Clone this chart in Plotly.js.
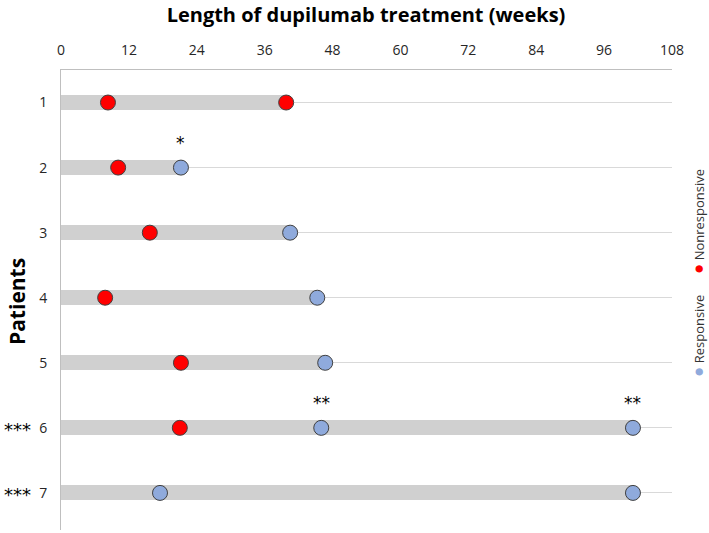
<!DOCTYPE html>
<html>
<head>
<meta charset="utf-8">
<script src="https://cdn.plot.ly/plotly-3.0.1.min.js"></script>
<style>html,body{margin:0;padding:0;background:#fff;}#chart{width:709px;height:533px;}</style>
</head>
<body>
<div id="chart"></div>
<script>
// Data
const patients = [1, 2, 3, 4, 5, 6, 7];
const treatmentEnd = [40, 21.2, 40.5, 45.3, 46.7, 101.1, 101.1];
const nonrespWeeks = [8.3, 39.8, 10.1, 15.7, 7.8, 21.2, 21.0];
const nonrespPatient = [1, 1, 2, 3, 4, 5, 6];
const respWeeks = [21.2, 40.5, 45.3, 46.7, 46.0, 101.1, 17.5, 101.1];
const respPatient = [2, 3, 4, 5, 6, 6, 7, 7];
const xTicks = [0, 12, 24, 36, 48, 60, 72, 84, 96, 108];
const starNotes = [
  {x: 21.2, y: 2, text: '*'},
  {x: 46.0, y: 6, text: '**'},
  {x: 101.1, y: 6, text: '**'}
];
const starPatients = [6, 7];

const labelFont = {family: 'Open Sans, Liberation Sans, sans-serif', size: 14, color: '#262626'};

const traces = [
  {
    type: 'bar', orientation: 'h', x: treatmentEnd, y: patients, base: 0,
    width: 0.23, marker: {color: '#D0D0D0'}, hoverinfo: 'skip', showlegend: false
  },
  {
    type: 'scatter', mode: 'markers', x: nonrespWeeks, y: nonrespPatient, name: 'Nonresponsive',
    marker: {color: '#FF0000', size: 15, line: {color: '#404040', width: 1}}, showlegend: false
  },
  {
    type: 'scatter', mode: 'markers', x: respWeeks, y: respPatient, name: 'Responsive',
    marker: {color: '#8FAADC', size: 15, line: {color: '#404040', width: 1}}, showlegend: false
  }
];

const annotations = [];
starNotes.forEach(s => annotations.push({
  x: s.x, y: s.y, xref: 'x', yref: 'y', text: s.text, showarrow: false,
  xanchor: 'center', yshift: 25, font: {family: 'DejaVu Sans, sans-serif', size: 17, color: '#000'}
}));
starPatients.forEach(p => annotations.push({
  x: -0.072, y: p, xref: 'paper', yref: 'y', text: '***', showarrow: false,
  xanchor: 'center', yshift: -2, font: {family: 'DejaVu Sans, sans-serif', size: 18, color: '#000'}
}));
annotations.push({
  x: (17 - 61) / 611, y: (530 - 302) / 460, xref: 'paper', yref: 'paper', text: '<b>Patients</b>', textangle: -90,
  xanchor: 'center', yanchor: 'middle',
  showarrow: false, font: {family: 'Open Sans, sans-serif', size: 21, color: '#000'}
});
annotations.push({
  x: (697 - 61) / 611, y: (530 - 222) / 460, xref: 'paper', yref: 'paper',
  xanchor: 'center', yanchor: 'middle',
  text: '<span style="color:#FF0000;font-size:17px">●</span> Nonresponsive', textangle: -90, showarrow: false,
  font: {family: 'Open Sans, sans-serif', size: 13, color: '#333'}
});
annotations.push({
  x: (697 - 61) / 611, y: (530 - 336) / 460, xref: 'paper', yref: 'paper',
  xanchor: 'center', yanchor: 'middle',
  text: '<span style="color:#8FAADC;font-size:17px">●</span> Responsive', textangle: -90, showarrow: false,
  font: {family: 'Open Sans, sans-serif', size: 13, color: '#333'}
});

const layout = {
  width: 709, height: 533,
  margin: {l: 61, r: 37, t: 70, b: 3, pad: 0},
  paper_bgcolor: '#fff', plot_bgcolor: '#fff',
  title: {
    text: '<b>Length of dupilumab treatment (weeks)</b>',
    x: 366 / 709, xanchor: 'center', y: 1 - 15 / 533, yanchor: 'middle', xref: 'container', yref: 'container',
    font: {family: 'Open Sans, sans-serif', size: 20, color: '#000'}
  },
  xaxis: {
    side: 'top', range: [0, 108], tickvals: xTicks, ticktext: xTicks.map(String),
    showgrid: false, zeroline: false, showline: true, linecolor: '#BFBFBF', linewidth: 1,
    ticks: 'outside', ticklen: 8, tickcolor: 'rgba(0,0,0,0)', tickfont: labelFont, fixedrange: true
  },
  yaxis: {
    range: [7.57, 0.5], tickvals: patients, ticktext: patients.map(String),
    showgrid: true, gridcolor: '#D9D9D9', gridwidth: 1, zeroline: false,
    showline: true, linecolor: '#BFBFBF', linewidth: 1,
    ticks: 'outside', ticklen: 10, tickcolor: 'rgba(0,0,0,0)', tickfont: labelFont, fixedrange: true
  },
  annotations: annotations,
  showlegend: false,
  bargap: 0
};

Plotly.newPlot('chart', traces, layout, {displayModeBar: false, staticPlot: true});
</script>
</body>
</html>
